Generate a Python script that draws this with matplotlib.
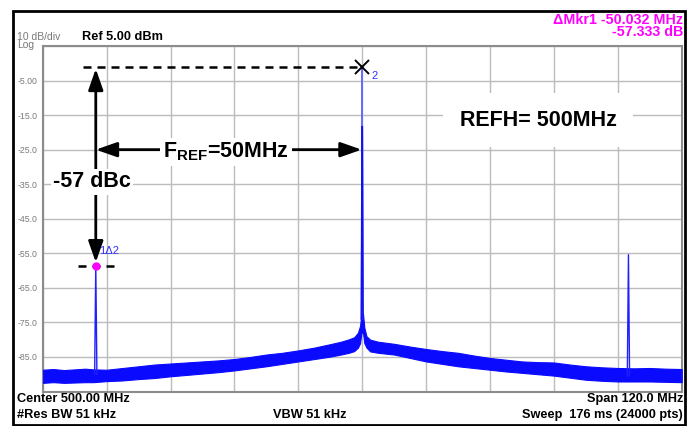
import matplotlib
matplotlib.use("Agg")
import matplotlib.pyplot as plt
from matplotlib.patches import Rectangle

plt.rcParams['font.family'] = ['Liberation Sans', 'DejaVu Sans']
plt.rcParams['mathtext.fontset'] = 'custom'
plt.rcParams['mathtext.bf'] = 'Liberation Sans:bold'
plt.rcParams['mathtext.rm'] = 'Liberation Sans'

# ---- analyzer settings ----
center_mhz = 500.0
span_mhz = 120.0
ref_level_dbm = 5.0
db_per_div = 10
rbw_khz = 51
vbw_khz = 51
sweep_ms = 176
sweep_pts = 24000

# ---- markers ----
delta_mkr_mhz = -50.032
delta_mkr_db = -57.333
carrier_mhz = 500.0
carrier_peak_db = -1.2
spur_mhz = carrier_mhz + delta_mkr_mhz
spur_db = carrier_peak_db + delta_mkr_db
spur2_mhz = 550.0
spur2_db = -55.4

# ---- noise floor envelope (upper / lower edge of the trace) ----
floor_mhz = [440, 442, 444, 446, 448, 449.5, 452, 455, 458, 461, 464, 467, 470,
             473, 476, 479, 482, 485, 488, 491, 494, 496, 497.5, 498.5, 499.2,
             499.6, 499.85, 500.15, 500.4,
             500.8, 501.5, 503, 506, 509, 512, 515, 518, 521, 524, 527, 530,
             533, 536, 539, 542, 545, 548, 551, 554, 557, 560]
floor_hi_db = [-88.7, -88.5, -88.8, -88.6, -88.4, -88.6, -88.7, -88.2, -87.7,
               -87.2, -86.9, -86.6, -86.3, -86.0, -85.6, -85.0, -84.3, -83.8,
               -83.1, -82.3, -81.3, -80.6, -79.9, -79.3, -78.0,
               -76.0, -72.5, -72.5, -76.5,
               -79.0, -80.0, -80.6, -81.2, -82.0, -82.7, -83.3, -83.8, -84.6,
               -85.3, -85.8, -86.3, -86.5, -86.6, -87.2, -87.7, -88.0, -88.2,
               -88.3, -88.2, -88.4, -88.5]
floor_lo_db = [-92.5, -92.3, -92.5, -92.4, -92.3, -92.3, -92.0, -91.8, -91.4,
               -91.1, -90.6, -90.2, -89.8, -89.4, -88.9, -88.3, -87.7, -87.0,
               -86.3, -85.6, -84.9, -84.3, -83.8, -83.3, -82.3,
               -81.0, -78.0, -78.0, -81.0,
               -82.3, -83.4, -83.8, -84.3, -85.3, -86.3, -87.0, -87.7, -88.2,
               -88.7, -89.2, -89.6, -90.0, -90.4, -91.0, -91.6, -91.9, -92.1,
               -92.1, -92.1, -92.2, -92.3]

# ---- discrete tones ----
carrier_trace_mhz = [499.85, 499.98, carrier_mhz, 500.02, 500.15]
carrier_trace_db = [-74.0, -18.4, carrier_peak_db, -18.4, -74.0]
spur_trace_mhz = [spur_mhz - 0.21, spur_mhz - 0.17, spur_mhz, spur_mhz + 0.17, spur_mhz + 0.21]
spur_trace_db = [-90.0, -83.5, spur_db, -83.5, -90.0]
spur2_trace_mhz = [spur2_mhz - 0.21, spur2_mhz - 0.17, spur2_mhz, spur2_mhz + 0.17, spur2_mhz + 0.21]
spur2_trace_db = [-90.5, -83.4, spur2_db, -83.4, -90.5]

y_tick_values = [-95, -85, -75, -65, -55, -45, -35, -25, -15, -5, 5]
y_tick_labels = ["", "-85.0", "-75.0", "-65.0", "-55.0", "-45.0", "-35.0",
                 "-25.0", "-15.0", "-5.00", ""]

W, H = 691, 426
fig = plt.figure(figsize=(W / 100, H / 100), dpi=100)
fig.patch.set_facecolor('white')


def fx(x):
    return x / W


def fy(y):
    return 1 - y / H


ax = fig.add_axes([fx(42.7), fy(391.5), (681.7 - 42.7) / W, (391.5 - 46.0) / H])
f_lo = center_mhz - span_mhz / 2
f_hi = center_mhz + span_mhz / 2
ax.set_xlim(f_lo, f_hi)
ax.set_ylim(ref_level_dbm - 10 * db_per_div, ref_level_dbm)
ax.set_xticks([f_lo + k * span_mhz / 10 for k in range(11)])
ax.set_yticks(y_tick_values)
ax.set_xticklabels([])
ax.set_yticklabels(y_tick_labels)
ax.tick_params(length=0, labelsize=6.3, labelcolor='#7a7a7a', pad=4)
ax.grid(True, color='#bcbcbc', lw=1.0)
ax.set_axisbelow(True)
for s in ax.spines.values():
    s.set_color('#8c8c8c')
    s.set_linewidth(1.5)

trace_blue = '#0a0aff'
ax.fill_between(floor_mhz, floor_lo_db, floor_hi_db, color=trace_blue,
                edgecolor=trace_blue, lw=0.8, zorder=3)
ax.plot(carrier_trace_mhz, carrier_trace_db, color='#6a6aff', lw=1.0, zorder=4)
ax.plot(carrier_trace_mhz[:2], carrier_trace_db[:2], color='#1010f0', lw=1.2, zorder=4)
ax.plot(carrier_trace_mhz[3:], carrier_trace_db[3:], color='#1010f0', lw=1.2, zorder=4)
ax.plot(spur_trace_mhz, spur_trace_db, color='#2020ff', lw=1.0, zorder=4)
ax.plot(spur2_trace_mhz, spur2_trace_db, color='#2020ff', lw=1.0, zorder=4)

# marker annotations
dash = (0, (3.2, 2.4))
ax.plot([447.6, carrier_mhz], [carrier_peak_db, carrier_peak_db], color='black',
        lw=1.8, linestyle=dash, zorder=5)
ax.plot([spur_mhz - 3.3, spur_mhz + 3.6], [spur_db, spur_db], color='black',
        lw=1.8, linestyle=dash, zorder=5)
ax.plot([carrier_mhz], [carrier_peak_db], marker='x', ms=10, mew=1.4,
        color='black', zorder=6)
ax.plot([spur_mhz], [spur_db], marker='o', ms=5, color='#ff00ff', zorder=6)

arrow_style = '<|-|>,head_length=0.8,head_width=0.28'
ax.annotate('', xy=(spur_mhz, carrier_peak_db - 0.4), xytext=(spur_mhz, spur_db + 0.9),
            arrowprops=dict(arrowstyle=arrow_style, color='black', lw=2.0,
                            mutation_scale=16, shrinkA=0, shrinkB=0), zorder=6)
ax.annotate('', xy=(carrier_mhz - 0.1, -25.0), xytext=(spur_mhz, -25.0),
            arrowprops=dict(arrowstyle=arrow_style, color='black', lw=2.0,
                            mutation_scale=16, shrinkA=0, shrinkB=0), zorder=6)

big = dict(fontsize=15.5, fontweight='bold', color='black', zorder=7)
fig.text(fx(92), fy(182), f"{round(delta_mkr_db)} dBc", ha='center', va='center',
         bbox=dict(facecolor='white', edgecolor='none', pad=1.5), **big)
fig.text(fx(226), fy(152), r"$\mathbf{F_{REF}}$=50MHz", ha='center', va='center',
         bbox=dict(facecolor='white', edgecolor='none', pad=2), **big)
fig.text(fx(538), fy(120), "REFH= 500MHz", ha='center', va='center',
         bbox=dict(facecolor='white', edgecolor='none', pad=12), **big)

fig.text(fx(371), fy(76), "2", color='#3030ff', fontsize=8, ha='left', va='center')
fig.text(fx(99.5), fy(251), "1\u03942", color='#3030ff', fontsize=8, ha='left', va='center')

# header
fig.text(fx(17), fy(37), f"{db_per_div} dB/div", color='#7a7a7a', fontsize=7.5,
         ha='left', va='center')
fig.text(fx(17), fy(45.5), "Log", color='#7a7a7a', fontsize=7.5, ha='left', va='center')
fig.text(fx(82), fy(36.5), f"Ref {ref_level_dbm:.2f} dBm", fontsize=9.2,
         fontweight='bold', ha='left', va='center')
fig.text(fx(683), fy(20), f"\u0394Mkr1 {delta_mkr_mhz:.3f} MHz", color='#ff00ff',
         fontsize=10.3, fontweight='bold', ha='right', va='center')
fig.text(fx(683), fy(32.5), f"{delta_mkr_db:.3f} dB", color='#ff00ff',
         fontsize=10.3, fontweight='bold', ha='right', va='center')

# footer
foot = dict(fontsize=9.2, fontweight='bold', color='black', va='center')
fig.text(fx(17), fy(399), f"Center {center_mhz:.2f} MHz", ha='left', **foot)
fig.text(fx(17), fy(415), f"#Res BW {rbw_khz} kHz", ha='left', **foot)
fig.text(fx(310), fy(415), f"VBW {vbw_khz} kHz", ha='center', **foot)
fig.text(fx(683), fy(399), f"Span {span_mhz:.1f} MHz", ha='right', **foot)
fig.text(fx(683), fy(415), f"Sweep  {sweep_ms} ms ({sweep_pts} pts)", ha='right', **foot)

fig.add_artist(Rectangle((fx(13), fy(424.5)), (684.5 - 13) / W, (424.5 - 10.5) / H,
                         transform=fig.transFigure, fill=False, edgecolor='black',
                         lw=2.0, zorder=10))

fig.savefig("out.png", dpi=100, facecolor='white')
